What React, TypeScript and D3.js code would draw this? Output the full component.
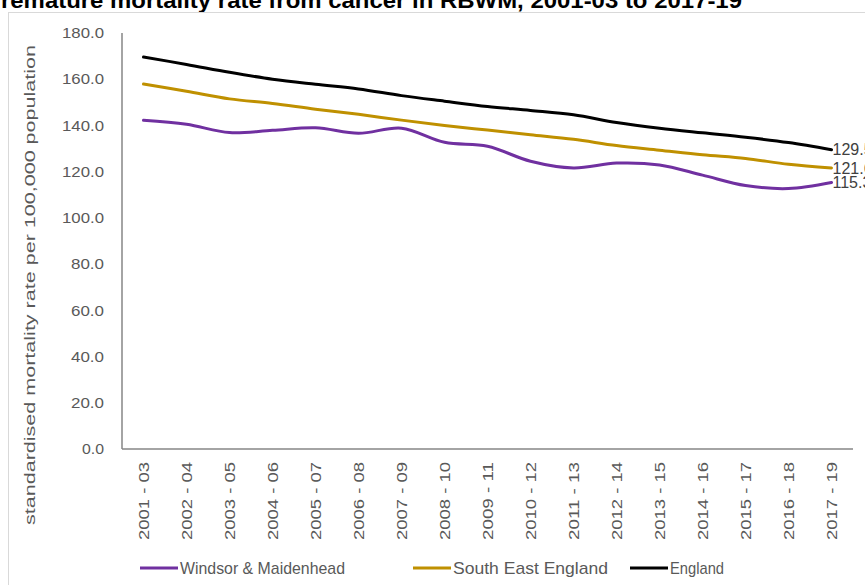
import React from "react";
import * as d3 from "d3";

const categories = [
  "2001 - 03", "2002 - 04", "2003 - 05", "2004 - 06", "2005 - 07", "2006 - 08",
  "2007 - 09", "2008 - 10", "2009 - 11", "2010 - 12", "2011 - 13", "2012 - 14",
  "2013 - 15", "2014 - 16", "2015 - 17", "2016 - 18", "2017 - 19",
];
const windsor = [142.2, 140.5, 136.9, 137.9, 139.0, 136.6, 138.8, 132.7, 131.0, 124.5, 121.6, 123.7, 122.9, 118.5, 114.0, 112.7, 115.3];
const southEast = [157.9, 154.8, 151.5, 149.5, 147.0, 144.8, 142.3, 140.0, 138.0, 136.0, 134.0, 131.3, 129.3, 127.3, 125.7, 123.2, 121.6];
const england = [169.6, 166.4, 163.0, 160.0, 157.8, 155.8, 152.9, 150.5, 148.2, 146.5, 144.6, 141.3, 138.8, 136.8, 134.9, 132.6, 129.5];
const yTicks = [0, 20, 40, 60, 80, 100, 120, 140, 160, 180];
const seriesNames = ["Windsor & Maidenhead", "South East England", "England"];
const seriesColors = ["#7030A0", "#BF9000", "#000000"];

export default function App() {
  const W = 865, H = 585;
  const left = 122, right = 853, top = 33, bottom = 449;
  const x = d3.scalePoint<string>().domain(categories).range([left, right]).padding(0.5);
  const y = d3.scaleLinear().domain([0, 180]).range([bottom, top]);
  const series = [windsor, southEast, england];
  const line = d3.line<number>()
    .x((_, i) => x(categories[i]) as number)
    .y((d) => y(d))
    .curve(d3.curveCatmullRom.alpha(0.5));
  const legendX = [140, 413, 630];
  const legendW = [165, 155, 54];
  const font = "Arial, 'Liberation Sans', sans-serif";
  return (
    <svg width={W} height={H} style={{ position: "absolute", left: 0, top: 0 }} fontFamily={font}>
      <rect x={0} y={0} width={W} height={H} fill="#fff" />
      <text x={-15} y={8} fontSize={22} fontWeight="bold" fill="#000" textLength={757} lengthAdjust="spacingAndGlyphs">
        Premature mortality rate from cancer in RBWM, 2001-03 to 2017-19
      </text>
      <rect x={8.5} y={12.5} width={900} height={600} fill="none" stroke="#d9d9d9" strokeWidth={1} />
      {yTicks.map((t) => (
        <text key={t} x={104} y={y(t)} dy="0.35em" textAnchor="end" fontSize={15} fill="#595959" textLength={t >= 100 ? 42 : t > 0 ? 33 : 22} lengthAdjust="spacingAndGlyphs">
          {t.toFixed(1)}
        </text>
      ))}
      <text transform={`translate(30,285) rotate(-90)`} textAnchor="middle" dy="0.35em" fontSize={14} fill="#595959" textLength={480} lengthAdjust="spacingAndGlyphs">
        standardised mortality rate per 100,000 population
      </text>
      <line x1={left} x2={left} y1={top} y2={bottom} stroke="#868686" strokeWidth={1.5} />
      <line x1={left} x2={right} y1={bottom} y2={bottom} stroke="#868686" strokeWidth={1.5} />
      {categories.map((c) => (
        <text key={c} transform={`translate(${x(c)},${bottom + 13}) rotate(-90)`} textAnchor="end" dy="0.35em" fontSize={15} fill="#595959" textLength={78} lengthAdjust="spacingAndGlyphs">
          {c}
        </text>
      ))}
      {series.map((s, k) => (
        <path key={k} d={line(s) as string} fill="none" stroke={seriesColors[k]} strokeWidth={3} strokeLinejoin="round" strokeLinecap="round" />
      ))}
      {series.map((s, k) => (
        <text key={"l" + k} x={(x(categories[16]) as number) + 1} y={y(s[16])} dy="0.35em" fontSize={16} fill="#404040">
          {s[16].toFixed(1)}
        </text>
      ))}
      {seriesNames.map((n, k) => (
        <g key={n}>
          <line x1={legendX[k]} x2={legendX[k] + 38} y1={568} y2={568} stroke={seriesColors[k]} strokeWidth={3} />
          <text x={legendX[k] + 40} y={568} dy="0.35em" fontSize={17} fill="#595959" textLength={legendW[k]} lengthAdjust="spacingAndGlyphs">{n}</text>
        </g>
      ))}
    </svg>
  );
}
